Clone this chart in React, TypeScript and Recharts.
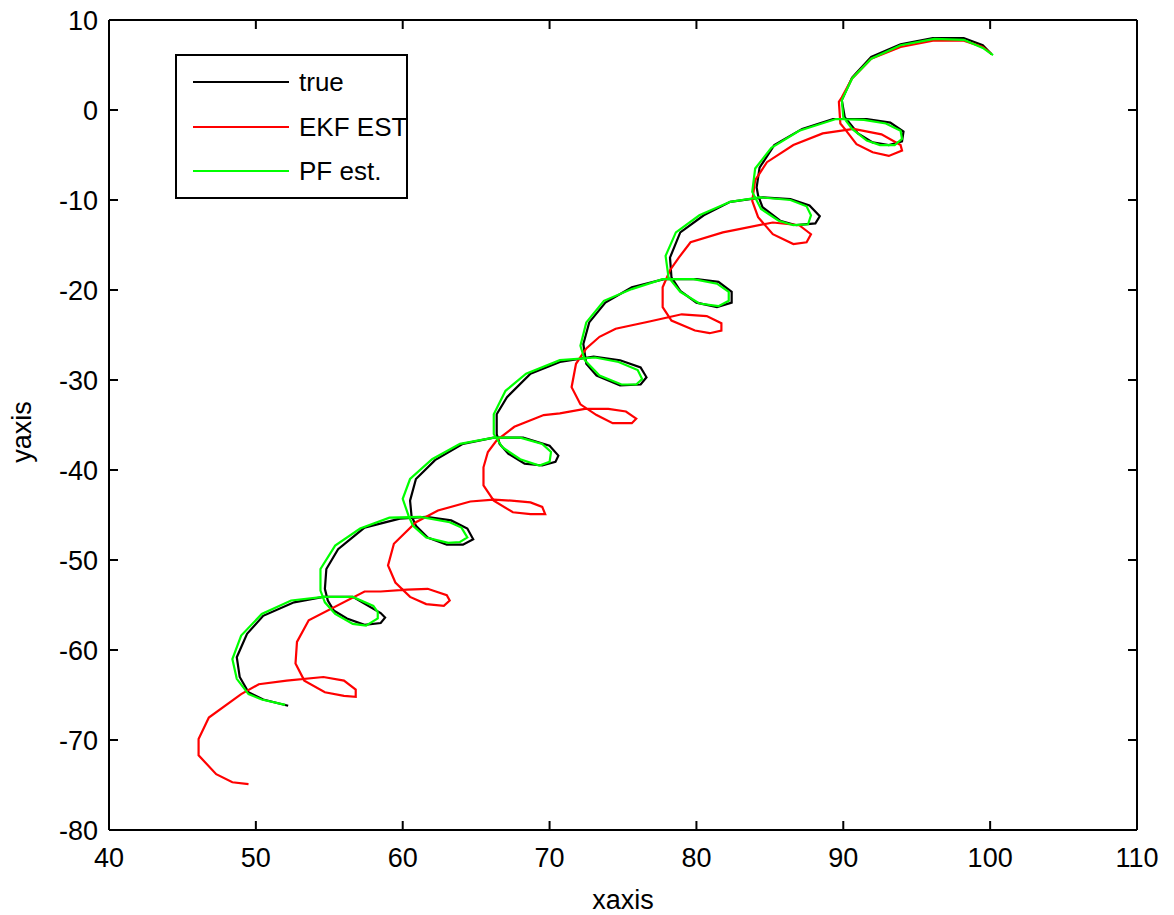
import React from 'react'
import { LineChart, Line, XAxis, YAxis, Legend } from 'recharts'

// trajectories, top-right end first
const trueX = [100.1, 99.5, 98.2, 96.1, 93.9, 91.9, 90.6, 89.9, 90.1, 91.0, 92.0, 93.1, 94.0, 94.1, 93.2, 91.6, 89.3, 87.2, 85.3, 84.3, 84.1, 84.2, 84.5, 85.7, 86.8, 88.1, 88.4, 87.7, 86.4, 84.5, 82.3, 80.5, 78.9, 78.2, 78.3, 78.9, 80.0, 81.4, 82.4, 82.4, 81.5, 80.0, 77.8, 75.6, 73.8, 72.7, 72.3, 72.5, 73.2, 74.8, 76.2, 76.6, 76.2, 74.8, 73.0, 70.7, 68.7, 67.1, 66.4, 66.4, 66.6, 67.2, 68.3, 69.5, 70.4, 70.6, 70.0, 68.2, 66.2, 64.1, 62.2, 60.9, 60.5, 60.6, 60.9, 61.7, 63.0, 64.1, 64.8, 64.4, 63.3, 61.6, 59.8, 57.4, 55.6, 54.8, 54.7, 54.9, 55.3, 56.2, 57.4, 58.5, 58.8, 58.5, 56.6, 54.6, 52.6, 50.5, 49.4, 48.7, 48.9, 49.5, 50.5, 52.2]
const trueY = [6.2, 7.2, 8.0, 8.0, 7.3, 5.9, 3.6, 1.1, -0.8, -2.6, -3.6, -3.9, -3.5, -2.4, -1.4, -1.0, -1.0, -2.1, -3.9, -6.4, -8.6, -9.5, -10.8, -12.3, -12.8, -12.6, -11.8, -10.6, -9.9, -9.7, -10.2, -11.7, -13.6, -16.4, -18.6, -20.1, -21.4, -21.9, -21.4, -20.2, -19.1, -18.8, -18.8, -19.7, -21.4, -23.6, -26.0, -28.2, -29.5, -30.6, -30.5, -29.7, -28.6, -27.8, -27.4, -28.0, -29.3, -31.9, -33.8, -36.0, -37.1, -38.2, -39.3, -39.5, -39.1, -38.4, -37.3, -36.4, -36.4, -37.1, -38.9, -41.0, -43.4, -45.1, -46.2, -47.5, -48.3, -48.3, -47.7, -46.5, -45.6, -45.2, -45.4, -46.4, -48.8, -51.0, -53.2, -54.5, -55.6, -56.5, -57.2, -57.0, -56.4, -55.9, -54.1, -54.1, -54.7, -56.2, -58.2, -60.8, -63.0, -64.7, -65.5, -66.2]

const ekfX = [100.1, 99.5, 98.2, 96.1, 93.9, 91.9, 90.6, 89.9, 89.7, 89.8, 90.1, 90.9, 92.0, 93.1, 94.0, 93.9, 92.6, 90.7, 88.6, 86.6, 84.8, 84.0, 83.8, 84.2, 85.2, 86.6, 87.5, 87.8, 87.0, 85.2, 83.0, 81.8, 79.6, 78.8, 78.2, 77.7, 77.7, 78.3, 79.9, 80.9, 81.7, 81.7, 80.7, 79.0, 76.8, 74.5, 73.4, 72.5, 71.8, 71.5, 72.1, 73.2, 74.3, 75.6, 75.9, 75.2, 74.0, 72.4, 70.7, 69.6, 67.6, 66.4, 65.8, 65.5, 65.5, 66.2, 67.5, 68.7, 69.7, 69.5, 68.7, 67.4, 66.2, 64.6, 62.4, 60.9, 59.4, 59.0, 59.5, 60.5, 61.6, 62.8, 63.2, 63.0, 61.7, 60.3, 58.5, 57.4, 53.6, 52.8, 52.7, 53.3, 54.7, 56.0, 56.8, 56.8, 56.0, 54.6, 52.1, 50.2, 49.0, 46.8, 46.1, 46.1, 47.3, 48.4, 49.5]
const ekfY = [6.2, 7.0, 7.7, 7.7, 7.0, 5.7, 3.5, 1.4, 0.9, -1.5, -2.1, -3.8, -4.7, -5.1, -4.5, -3.9, -2.7, -2.1, -2.6, -3.9, -5.8, -7.8, -10.1, -11.9, -13.8, -14.9, -14.7, -13.8, -12.8, -12.5, -13.2, -13.6, -14.7, -16.4, -17.8, -19.7, -21.9, -23.4, -24.5, -24.8, -24.5, -23.7, -22.9, -22.7, -23.5, -24.3, -25.2, -26.5, -28.2, -30.8, -32.7, -33.9, -34.8, -34.8, -34.3, -33.5, -33.2, -33.2, -33.7, -33.9, -35.2, -36.7, -38.0, -39.7, -41.7, -43.4, -44.7, -44.9, -44.9, -44.1, -43.6, -43.4, -43.3, -43.5, -44.5, -45.8, -48.2, -50.6, -52.5, -54.1, -54.9, -55.1, -54.5, -53.9, -53.2, -53.3, -53.5, -53.5, -56.7, -59.1, -61.5, -63.4, -64.7, -65.1, -65.2, -64.4, -63.4, -63.0, -63.4, -63.8, -64.9, -67.5, -69.9, -71.7, -73.8, -74.7, -74.9]

const pfX = [100.2, 99.5, 98.2, 96.2, 93.9, 91.9, 90.6, 89.9, 90.0, 90.6, 91.6, 92.5, 93.5, 94.0, 93.9, 92.9, 91.4, 89.5, 87.0, 85.1, 84.0, 83.8, 84.4, 85.6, 86.6, 87.6, 87.8, 87.5, 86.4, 84.3, 82.3, 80.2, 78.6, 77.9, 78.1, 78.9, 80.2, 81.5, 82.2, 82.2, 81.4, 79.8, 77.7, 75.6, 73.7, 72.5, 72.1, 72.4, 73.4, 74.9, 75.9, 76.3, 76.0, 74.7, 73.1, 70.7, 68.4, 67.0, 66.2, 66.2, 66.8, 68.0, 69.3, 70.0, 70.1, 69.5, 68.0, 66.2, 63.9, 62.0, 60.5, 60.0, 60.4, 60.7, 61.6, 63.1, 63.9, 64.4, 64.0, 63.2, 61.2, 59.1, 57.1, 55.4, 54.4, 54.4, 54.7, 55.4, 56.6, 57.5, 58.3, 58.3, 58.0, 56.6, 54.6, 52.4, 50.4, 49.0, 48.4, 48.7, 49.5, 50.4, 52.0]
const pfY = [6.1, 6.9, 7.8, 7.9, 7.2, 5.7, 3.5, 1.1, -0.8, -2.1, -3.4, -3.9, -3.9, -3.2, -2.3, -1.5, -1.1, -1.0, -2.3, -4.2, -6.5, -9.1, -11.0, -12.3, -12.8, -12.7, -11.7, -10.7, -10.0, -9.7, -10.2, -11.7, -13.6, -16.2, -18.6, -20.2, -21.5, -21.8, -21.2, -20.2, -19.3, -18.8, -18.8, -19.9, -21.2, -23.6, -26.2, -27.8, -29.5, -30.5, -30.5, -29.9, -28.9, -28.0, -27.5, -27.8, -29.3, -31.2, -33.8, -36.0, -37.5, -38.8, -39.5, -39.1, -38.0, -37.1, -36.4, -36.4, -37.1, -38.8, -41.0, -43.2, -45.1, -46.2, -47.5, -48.1, -48.0, -47.5, -46.4, -45.8, -45.2, -45.3, -46.5, -48.4, -51.0, -53.4, -54.7, -56.0, -57.1, -57.3, -56.5, -55.8, -55.1, -54.1, -54.1, -54.5, -56.0, -58.4, -61.0, -63.2, -64.9, -65.5, -66.1]

const seriesNames = ['true', 'EKF EST', 'PF est.']
const xTicks = [40, 50, 60, 70, 80, 90, 100, 110]
const yTicks = [-80, -70, -60, -50, -40, -30, -20, -10, 0, 10]

const toPoints = (xs: number[], ys: number[]) => xs.map((x, i) => ({ x, y: ys[i] }))

const trueData = toPoints(trueX, trueY)
const ekfData = toPoints(ekfX, ekfY)
const pfData = toPoints(pfX, pfY)

const FONT = 'Arial, "Liberation Sans", Helvetica, sans-serif'
const FS = 27
const TICK = 9

const BottomTick = ({ x, y, payload }: any) => (
  <g>
    <line x1={x} y1={y} x2={x} y2={y - TICK} stroke="#000" strokeWidth={2} />
    <text x={x} y={y + 37} textAnchor="middle" fontSize={FS} fontFamily={FONT} fill="#000">{payload.value}</text>
  </g>
)

const TopTick = ({ x, y }: any) => (
  <line x1={x} y1={y} x2={x} y2={y + TICK} stroke="#000" strokeWidth={2} />
)

const LeftTick = ({ x, y, payload }: any) => (
  <g>
    <line x1={x} y1={y} x2={x + TICK} y2={y} stroke="#000" strokeWidth={2} />
    <text x={x - 11} y={y + 10} textAnchor="end" fontSize={FS} fontFamily={FONT} fill="#000">{payload.value}</text>
  </g>
)

const RightTick = ({ x, y }: any) => (
  <line x1={x} y1={y} x2={x - TICK} y2={y} stroke="#000" strokeWidth={2} />
)

const renderLegend = ({ payload }: any) => {
  const items = [...(payload || [])].sort((a: any, b: any) => seriesNames.indexOf(a.value) - seriesNames.indexOf(b.value))
  return (
    <div style={{ position: 'relative', width: 233, height: 145, boxSizing: 'border-box', border: '2px solid #000', background: '#fff' }}>
      {items.map((entry: any, i: number) => (
        <div key={entry.value} style={{ position: 'absolute', left: 0, top: 26 + i * 44.5 - 16, height: 32, display: 'flex', alignItems: 'center', whiteSpace: 'nowrap' }}>
          <div style={{ marginLeft: 16, width: 96, height: 2, background: entry.color }} />
          <span style={{ marginLeft: 10, fontFamily: FONT, fontSize: 26, color: '#000', lineHeight: '32px' }}>{entry.value}</span>
        </div>
      ))}
    </div>
  )
}

export default function App() {
  return (
    <div style={{ position: 'absolute', left: 0, top: 0, width: 1174, height: 915, background: '#fff' }}>
      <LineChart width={1174} height={915} margin={{ top: 19, right: 36, left: 0, bottom: 0 }}>
        <XAxis xAxisId="b" dataKey="x" type="number" domain={[40, 110]} ticks={xTicks} interval={0}
          allowDataOverflow height={85} tickSize={0} tickMargin={0} tick={<BottomTick />}
          axisLine={{ stroke: '#000', strokeWidth: 2 }} />
        <XAxis xAxisId="t" orientation="top" dataKey="x" type="number" domain={[40, 110]} ticks={xTicks} interval={0}
          allowDataOverflow height={1} tickSize={0} tickMargin={0} tick={<TopTick />}
          axisLine={{ stroke: '#000', strokeWidth: 2 }} />
        <YAxis yAxisId="l" dataKey="y" type="number" domain={[-80, 10]} ticks={yTicks} interval={0}
          allowDataOverflow width={109} tickSize={0} tickMargin={0} tick={<LeftTick />}
          axisLine={{ stroke: '#000', strokeWidth: 2 }} />
        <YAxis yAxisId="r" orientation="right" dataKey="y" type="number" domain={[-80, 10]} ticks={yTicks} interval={0}
          allowDataOverflow width={1} tickSize={0} tickMargin={0} tick={<RightTick />}
          axisLine={{ stroke: '#000', strokeWidth: 2 }} />
        <Legend layout="vertical" align="center" verticalAlign="middle" content={renderLegend}
          wrapperStyle={{ position: 'absolute', left: 175, top: 54, width: 233, height: 145 }} />
        <Line xAxisId="b" yAxisId="l" data={trueData} dataKey="y" name={seriesNames[0]} type="linear" stroke="#000000"
          strokeWidth={2.2} dot={false} isAnimationActive={false} />
        <Line xAxisId="b" yAxisId="l" data={ekfData} dataKey="y" name={seriesNames[1]} type="linear" stroke="#ff0000"
          strokeWidth={2.2} dot={false} isAnimationActive={false} />
        <Line xAxisId="t" yAxisId="r" data={pfData} dataKey="y" name={seriesNames[2]} type="linear" stroke="#00ff00"
          strokeWidth={2.2} dot={false} isAnimationActive={false} />
      </LineChart>
      <div style={{ position: 'absolute', left: 623, top: 900, transform: 'translate(-50%, -50%)', fontFamily: FONT, fontSize: FS, color: '#000', whiteSpace: 'nowrap' }}>xaxis</div>
      <div style={{ position: 'absolute', left: 22, top: 432, transform: 'translate(-50%, -50%) rotate(-90deg)', fontFamily: FONT, fontSize: FS, color: '#000', whiteSpace: 'nowrap' }}>yaxis</div>
    </div>
  )
}
